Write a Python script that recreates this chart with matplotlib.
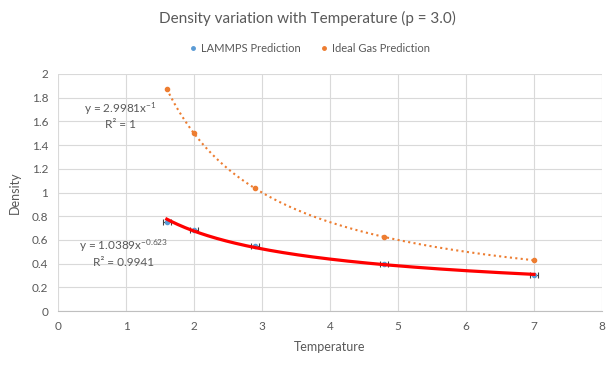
import numpy as np
import matplotlib
matplotlib.use("Agg")
import matplotlib.pyplot as plt
from matplotlib.lines import Line2D

plt.rcParams['font.family'] = ['Lato', 'DejaVu Sans']
plt.rcParams['mathtext.fontset'] = 'custom'
plt.rcParams['mathtext.rm'] = 'Lato'
plt.rcParams['mathtext.it'] = 'Lato'

temperature = [1.6, 2.0, 2.9, 4.8, 7.0]
lammps_density = [0.75, 0.68, 0.55, 0.40, 0.30]
lammps_xerr = [0.06, 0.06, 0.06, 0.06, 0.06]
ideal_density = [1.875, 1.5, 1.034, 0.625, 0.4286]
ideal_fit = (2.9981, -1.0)
lammps_fit = (1.0389, -0.623)

blue = '#5b9bd5'
orange = '#ed7d31'
txt = '#595959'

fig = plt.figure(figsize=(6.14, 3.66), dpi=100)
ax = fig.add_axes([58/614, 1-311/366, (602-58)/614, (311-74)/366])

xs = np.linspace(min(temperature), max(temperature), 200)
ax.plot(xs, ideal_fit[0]*xs**ideal_fit[1], color=orange, lw=1.5, ls=(0, (1, 1.6)), zorder=2)

ax.errorbar(temperature, lammps_density, xerr=lammps_xerr, fmt='o', ms=3, color=blue,
            ecolor='#404040', elinewidth=0.8, capsize=2.5, capthick=0.8, zorder=2)
ax.plot(xs, lammps_fit[0]*xs**lammps_fit[1], color='#ff0000', lw=2.3, zorder=3)
ax.plot(temperature, ideal_density, 'o', ms=3, color=orange, zorder=4)

ax.set_xlim(0, 8)
ax.set_ylim(0, 2)
ax.set_xticks(range(0, 9))
ax.set_yticks([0, 0.2, 0.4, 0.6, 0.8, 1, 1.2, 1.4, 1.6, 1.8, 2])
ax.set_yticklabels(['0', '0.2', '0.4', '0.6', '0.8', '1', '1.2', '1.4', '1.6', '1.8', '2'])
ax.grid(True, color='#d9d9d9', lw=0.8)
ax.set_axisbelow(True)
for s in ['top', 'right', 'left']:
    ax.spines[s].set_visible(False)
ax.spines['bottom'].set_color('#bfbfbf')
ax.tick_params(length=0, labelsize=8.5, colors=txt, pad=7)

ax.set_xlabel('Temperature', fontsize=9, color=txt, labelpad=7)
ax.set_ylabel('Density', fontsize=9, color=txt, labelpad=8)

fig.text(0.5, 1-18/366, 'Density variation with Temperature (p = 3.0)', ha='center', va='center',
         fontsize=11, color=txt)

handles = [Line2D([], [], ls='none', marker='o', ms=2.5, color=blue),
           Line2D([], [], ls='none', marker='o', ms=2.5, color=orange)]
leg = fig.legend(handles, ['LAMMPS Prediction', 'Ideal Gas Prediction'], loc='center',
                 bbox_to_anchor=(0.505, 1-48/366), ncol=2, frameon=False,
                 fontsize=8, handlelength=0.6, handletextpad=0.4, columnspacing=1.8)
for t in leg.get_texts():
    t.set_color(txt)

ax.text(0.92, 1.71, 'y = 2.9981x$^{-1}$', ha='center', va='center', fontsize=8.5, color=txt)
ax.text(0.92, 1.575, 'R² = 1', ha='center', va='center', fontsize=8.5, color=txt)
ax.text(0.96, 0.555, 'y = 1.0389x$^{-0.623}$', ha='center', va='center', fontsize=8.5, color=txt)
ax.text(0.96, 0.41, 'R² = 0.9941', ha='center', va='center', fontsize=8.5, color=txt)

fig.savefig('out.png', dpi=100)
